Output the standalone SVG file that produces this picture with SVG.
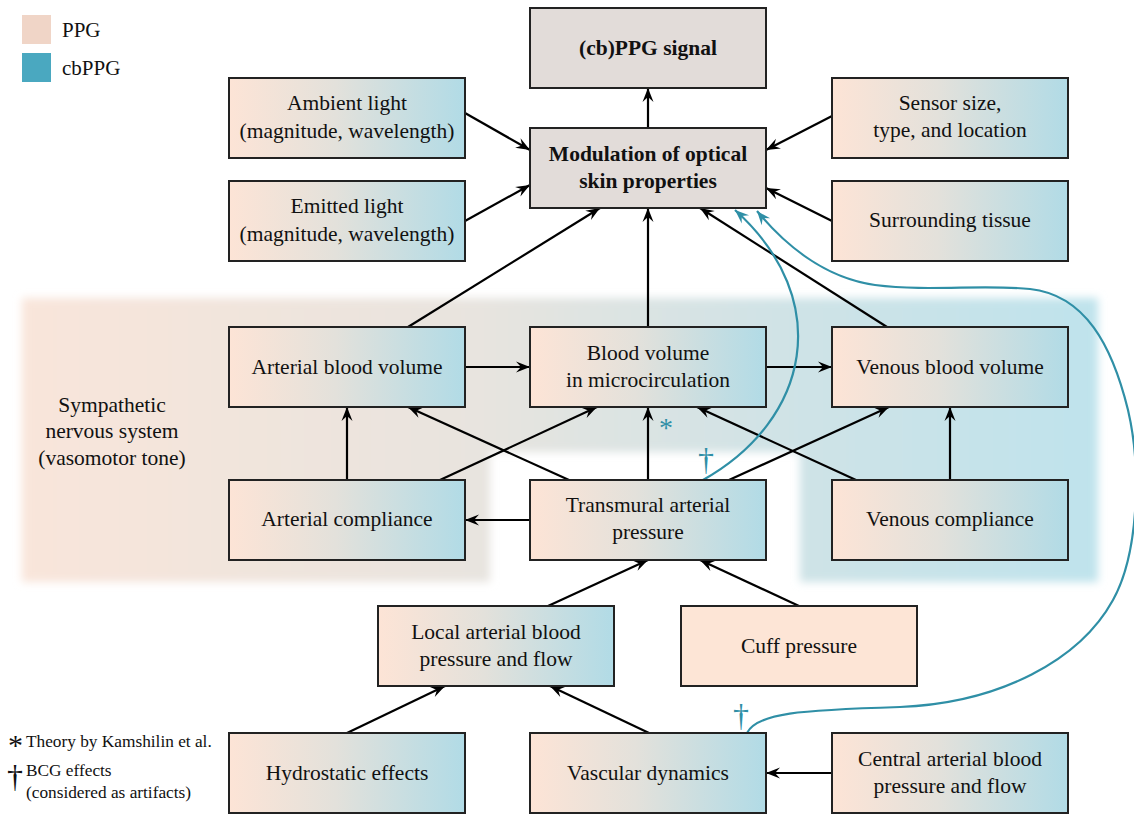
<svg xmlns="http://www.w3.org/2000/svg" width="1134" height="814" viewBox="0 0 1134 814">
<defs>
<linearGradient id="boxg" x1="0" y1="0" x2="1" y2="0">
<stop offset="0" stop-color="#fde4d6"/>
<stop offset="0.45" stop-color="#e3e1db"/>
<stop offset="1" stop-color="#b1dbe6"/>
</linearGradient>
<linearGradient id="bandg" gradientUnits="userSpaceOnUse" x1="22" y1="0" x2="1098" y2="0">
<stop offset="0" stop-color="#f9e5da"/>
<stop offset="0.42" stop-color="#e8e4df"/>
<stop offset="0.7" stop-color="#d0e3e6"/>
<stop offset="1" stop-color="#bfe3ec"/>
</linearGradient>
<filter id="blur" x="-5%" y="-10%" width="110%" height="120%">
<feGaussianBlur stdDeviation="4"/>
</filter>
<marker id="ah" viewBox="-15 -6 16 12" refX="0" refY="0" markerWidth="16" markerHeight="12" markerUnits="userSpaceOnUse" orient="auto">
<path d="M0,0 L-14,-5.5 L-9,0 L-14,5.5 Z" fill="#000"/>
</marker>
<marker id="ahb" viewBox="-15 -6 16 12" refX="0" refY="0" markerWidth="16" markerHeight="12" markerUnits="userSpaceOnUse" orient="auto">
<path d="M0,0 L-14,-5.5 L-9,0 L-14,5.5 Z" fill="#2f8fa6"/>
</marker>
</defs>
<style>
text{font-family:"Liberation Serif",serif;font-size:21.5px;fill:#111;}
.c{text-anchor:middle;}
.b{font-weight:bold;}
.box{fill:url(#boxg);stroke:#222;stroke-width:2;}
.gray{fill:#e2dcd9;stroke:#222;stroke-width:2;}
.ppg{fill:#fde5d6;stroke:#222;stroke-width:2;}
.ln{stroke:#000;stroke-width:2.2;fill:none;marker-end:url(#ah);}
.bl{stroke:#2f8fa6;stroke-width:2.2;fill:none;marker-end:url(#ahb);}
.blt{fill:#2f8fa6;}
.note{font-size:17.3px;}
.dg{font-size:32px;}
</style>

<g id="background">
<path d="M22,298 H1098 V582 H800 V452 H490 V582 H22 Z" fill="url(#bandg)" filter="url(#blur)"/>
<text class="c" x="112" y="412">Sympathetic</text>
<text class="c" x="112" y="438">nervous system</text>
<text class="c" x="112" y="465">(vasomotor tone)</text>
</g>

<g id="legend">
<rect x="22" y="15" width="29" height="29" fill="#f0d5c7"/>
<text x="62" y="37" style="font-size:21px">PPG</text>
<rect x="22" y="53" width="29" height="29" fill="#4aa8c0"/>
<text x="62" y="75" style="font-size:21px">cbPPG</text>
</g>

<g id="connectors">
<line class="ln" x1="648" y1="128" x2="648" y2="88"/>
<line class="ln" x1="465" y1="113" x2="530" y2="150"/>
<line class="ln" x1="465" y1="221" x2="530" y2="185"/>
<line class="ln" x1="832" y1="116" x2="766" y2="150"/>
<line class="ln" x1="832" y1="221" x2="766" y2="188"/>
<line class="ln" x1="408" y1="327" x2="600" y2="208"/>
<line class="ln" x1="648" y1="327" x2="648" y2="208"/>
<line class="ln" x1="887" y1="327" x2="700" y2="208"/>
<line class="ln" x1="465" y1="367" x2="530" y2="367"/>
<line class="ln" x1="766" y1="367" x2="832" y2="367"/>
<line class="ln" x1="347" y1="480" x2="347" y2="407"/>
<line class="ln" x1="440" y1="480" x2="597" y2="407"/>
<line class="ln" x1="569" y1="480" x2="408" y2="407"/>
<line class="ln" x1="648" y1="480" x2="648" y2="407"/>
<line class="ln" x1="729" y1="480" x2="889" y2="407"/>
<line class="ln" x1="856" y1="480" x2="697" y2="407"/>
<line class="ln" x1="950" y1="480" x2="950" y2="407"/>
<line class="ln" x1="530" y1="520" x2="465" y2="520"/>
<line class="ln" x1="548" y1="606" x2="648" y2="560"/>
<line class="ln" x1="799" y1="606" x2="700" y2="560"/>
<line class="ln" x1="347" y1="733" x2="445" y2="686"/>
<line class="ln" x1="649" y1="733" x2="550" y2="686"/>
<line class="ln" x1="832" y1="773" x2="766" y2="773"/>
<path class="bl" d="M703,480 C810,420 835,300 735,210"/>
<path class="bl" d="M747,733 C757,713 800,710 900,707 C1000,703 1080,660 1113,600 C1138,555 1142,470 1128,410 C1112,345 1085,295 1030,289 C980,284 930,292 875,285 C825,278 785,245 757,211"/>
<text class="blt c dg" x="706" y="470">†</text>
<text class="blt c dg" x="741" y="726">†</text>
<text class="blt c" x="666" y="437" style="font-size:28px">*</text>
</g>

<g id="n-signal"><rect class="gray" x="530" y="8" width="236" height="80"/><text class="c b" x="648" y="55">(cb)PPG signal</text></g>
<g id="n-modulation"><rect class="gray" x="530" y="128" width="236" height="80"/><text class="c b" x="648" y="161">Modulation of optical</text><text class="c b" x="648" y="188">skin properties</text></g>
<g id="n-ambient"><rect class="box" x="229" y="78" width="236" height="80"/><text class="c" x="347" y="110">Ambient light</text><text class="c" x="347" y="138">(magnitude, wavelength)</text></g>
<g id="n-emitted"><rect class="box" x="229" y="181" width="236" height="80"/><text class="c" x="347" y="213">Emitted light</text><text class="c" x="347" y="241">(magnitude, wavelength)</text></g>
<g id="n-sensor"><rect class="box" x="832" y="78" width="236" height="80"/><text class="c" x="950" y="110">Sensor size,</text><text class="c" x="950" y="137">type, and location</text></g>
<g id="n-tissue"><rect class="box" x="832" y="181" width="236" height="80"/><text class="c" x="950" y="227">Surrounding tissue</text></g>
<g id="n-abv"><rect class="box" x="229" y="327" width="236" height="80"/><text class="c" x="347" y="374">Arterial blood volume</text></g>
<g id="n-bvm"><rect class="box" x="530" y="327" width="236" height="80"/><text class="c" x="648" y="360">Blood volume</text><text class="c" x="648" y="387">in microcirculation</text></g>
<g id="n-vbv"><rect class="box" x="832" y="327" width="236" height="80"/><text class="c" x="950" y="374">Venous blood volume</text></g>
<g id="n-ac"><rect class="box" x="229" y="480" width="236" height="80"/><text class="c" x="347" y="526">Arterial compliance</text></g>
<g id="n-tap"><rect class="box" x="530" y="480" width="236" height="80"/><text class="c" x="648" y="512">Transmural arterial</text><text class="c" x="648" y="539">pressure</text></g>
<g id="n-vc"><rect class="box" x="832" y="480" width="236" height="80"/><text class="c" x="950" y="526">Venous compliance</text></g>
<g id="n-local"><rect class="box" x="378" y="606" width="236" height="80"/><text class="c" x="496" y="639">Local arterial blood</text><text class="c" x="496" y="666">pressure and flow</text></g>
<g id="n-cuff"><rect class="ppg" x="681" y="606" width="236" height="80"/><text class="c" x="799" y="653">Cuff pressure</text></g>
<g id="n-hydro"><rect class="box" x="229" y="733" width="236" height="80"/><text class="c" x="347" y="780">Hydrostatic effects</text></g>
<g id="n-vasc"><rect class="box" x="530" y="733" width="236" height="80"/><text class="c" x="648" y="780">Vascular dynamics</text></g>
<g id="n-central"><rect class="box" x="832" y="733" width="236" height="80"/><text class="c" x="950" y="766">Central arterial blood</text><text class="c" x="950" y="793">pressure and flow</text></g>

<g id="footnotes">
<text x="8" y="755" style="font-size:30px">*</text>
<text class="note" x="26" y="747">Theory by Kamshilin et al.</text>
<text class="dg" x="7" y="787">†</text>
<text class="note" x="26" y="776">BCG effects</text>
<text class="note" x="26" y="798">(considered as artifacts)</text>
</g>
</svg>
